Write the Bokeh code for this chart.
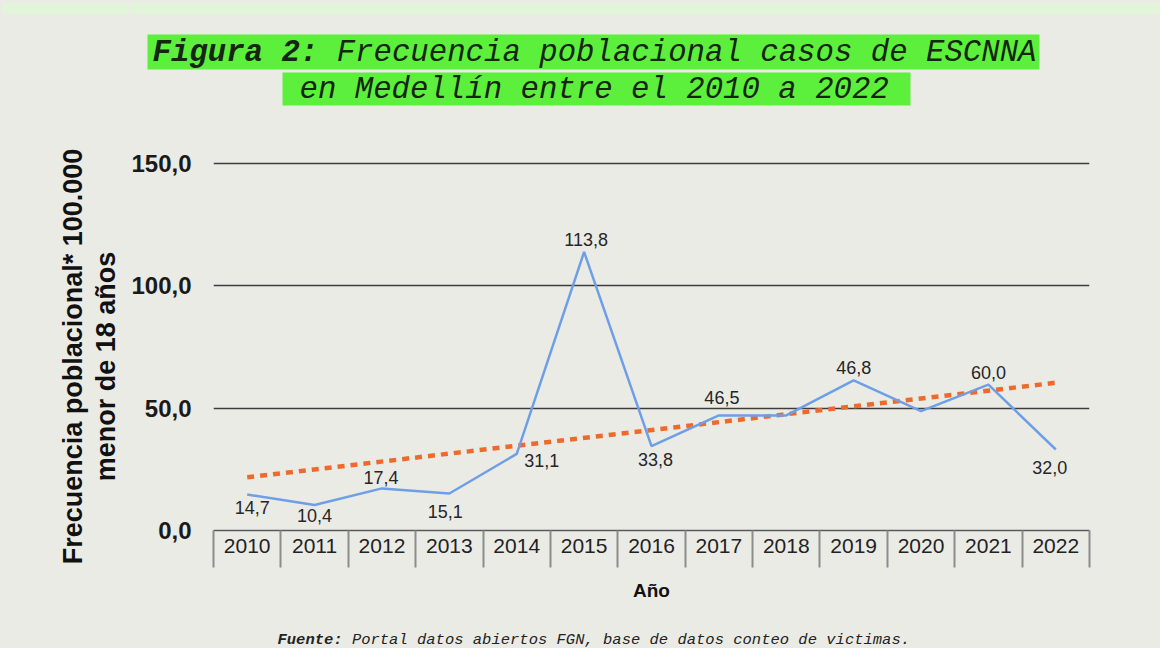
import math
import numpy as np
from bokeh.plotting import figure
from bokeh.layouts import column, row
from bokeh.models import Range1d, FixedTicker, ColumnDataSource
from bokeh.core.properties import value
from bokeh.embed import file_html
from bokeh.resources import INLINE

# ---------------- data ----------------
years = [2010, 2011, 2012, 2013, 2014, 2015, 2016, 2017, 2018, 2019, 2020, 2021, 2022]
rates = [14.7, 10.4, 17.2, 15.1, 31.3, 113.8, 34.5, 47.0, 47.0, 61.3, 48.8, 59.6, 33.1]
rate_labels = ["14,7", "10,4", "17,4", "15,1", "31,1", "113,8", "33,8",
               "46,5", "", "46,8", "", "60,0", "32,0"]
y_ticks = [0, 50, 100, 150]
y_tick_labels = ["0,0", "50,0", "100,0", "150,0"]

title_bold = "Figura 2:"
title_rest = "Frecuencia poblacional casos de ESCNNA"
title_line2 = "en Medellín entre el 2010 a 2022"
y_title_1 = "Frecuencia poblacional* 100.000"
y_title_2 = "menor de 18 años"
x_title = "Año"
source_bold = "Fuente:"
source_rest = "Portal datos abiertos FGN, base de datos conteo de victimas."

# label offsets in pixels (styling)
label_dx = [5, 0, -1, -4, 25, 2, 4, 3, 0, 0, 0, 0, -6]
label_dy = [13, 10, -11, 18, 7, -12, 13, -18, 0, -13, 0, -12, 18]

# ---------------- layout constants ----------------
BG = "#EBEBE6"
BAND = "#E2F4DA"
GREEN = "#5CF03C"
TC = "#15250f"
TOTAL_W, TOTAL_H = 1160, 648
LEFT_W = 128                 # page x 8..136
RW = TOTAL_W - LEFT_W        # right column width
OX = 8 + LEFT_W              # page x of right column
HEAD_H = 120
MAIN_H = 492
FOOT_H = TOTAL_H - HEAD_H - MAIN_H
STY = {"background-color": BG}


def pix_fig(w, h):
    f = figure(width=w, height=h, x_range=Range1d(0, w), y_range=Range1d(h, 0),
               output_backend="svg", toolbar_location=None,
               x_axis_type=None, y_axis_type=None, min_border=0,
               background_fill_color=BG, border_fill_color=BG,
               outline_line_color=None, styles=STY)
    return f


# ---------------- left strip: y title ----------------
left = pix_fig(LEFT_W, TOTAL_H)
left.quad(left=[2], right=[LEFT_W], top=[2], bottom=[14], fill_color=BAND, line_color=None)
left.text(x=[80 - 8, 113 - 8], y=[364 - 8, 374 - 8], text=[y_title_1, y_title_2],
          angle=math.pi / 2, text_font=value("Liberation Sans"), text_font_style="bold",
          text_font_size="27px", text_color="#111111",
          text_align="center", text_baseline="middle")

# ---------------- header ----------------
head = pix_fig(RW, HEAD_H)
head.quad(left=[0], right=[RW], top=[2], bottom=[14], fill_color=BAND, line_color=None)
head.quad(left=[155 - OX, 290 - OX], right=[1047 - OX, 918 - OX], top=[34, 72],
          bottom=[69, 105], fill_color=GREEN, line_color=None)
TFS = 30.7
CW = 0.6 * TFS
head.text(x=[160 - OX], y=[52], text=[title_bold], text_font=value("Liberation Mono"),
          text_font_style="bold italic", text_font_size=f"{TFS}px", text_color=TC,
          text_align="left", text_baseline="middle")
head.text(x=[160 - OX + (len(title_bold) + 1) * CW], y=[52], text=[title_rest],
          text_font=value("Liberation Mono"), text_font_style="italic",
          text_font_size=f"{TFS}px", text_color=TC,
          text_align="left", text_baseline="middle")
head.text(x=[307 - OX], y=[89], text=[title_line2], text_font=value("Liberation Mono"),
          text_font_style="italic", text_font_size=f"{TFS}px", text_color=TC,
          text_align="left", text_baseline="middle")

# ---------------- main plot ----------------
p = figure(width=RW, height=MAIN_H,
           x_range=Range1d(years[0] - 0.5, years[-1] + 0.5),
           y_range=Range1d(0, 152),
           output_backend="svg", toolbar_location=None,
           min_border_left=221 - OX, min_border_right=71,
           min_border_top=38, min_border_bottom=82,
           background_fill_color=BG, border_fill_color=BG,
           outline_line_color=None, styles=STY)

p.yaxis.ticker = FixedTicker(ticks=y_ticks)
p.yaxis.major_label_overrides = {t: l for t, l in zip(y_ticks, y_tick_labels)}
p.yaxis.axis_line_color = None
p.yaxis.major_tick_line_color = None
p.yaxis.minor_tick_line_color = None
p.yaxis.major_label_standoff = 16
p.yaxis.major_label_text_font = "Liberation Sans"
p.yaxis.major_label_text_font_style = "bold"
p.yaxis.major_label_text_font_size = "24px"
p.yaxis.major_label_text_color = "#1a1a1a"

p.ygrid.ticker = FixedTicker(ticks=y_ticks[1:])
p.ygrid.grid_line_color = "#3c3c3c"
p.ygrid.grid_line_width = 1.5
p.xgrid.visible = False

bounds = [y - 0.5 for y in years] + [years[-1] + 0.5]
p.xaxis.ticker = FixedTicker(ticks=years, minor_ticks=bounds)
p.xaxis.major_label_overrides = {y: str(y) for y in years}
p.xaxis.major_tick_out = 0
p.xaxis.major_tick_in = 0
p.xaxis.minor_tick_out = 37
p.xaxis.minor_tick_in = 0
p.xaxis.minor_tick_line_color = "#8c8c8c"
p.xaxis.minor_tick_line_width = 2
p.xaxis.axis_line_color = "#5a5a5a"
p.xaxis.axis_line_width = 1.5
p.xaxis.major_label_standoff = -29
p.xaxis.major_label_text_font = "Liberation Sans"
p.xaxis.major_label_text_font_size = "21px"
p.xaxis.major_label_text_color = "#222222"
p.xaxis.axis_label = x_title
p.xaxis.axis_label_text_font = "Liberation Sans"
p.xaxis.axis_label_text_font_style = "bold"
p.xaxis.axis_label_text_font_size = "19px"
p.xaxis.axis_label_text_color = "#111111"
p.xaxis.axis_label_standoff = 24

src = ColumnDataSource(dict(x=years, y=rates, t=rate_labels, dx=label_dx, dy=label_dy))

coef = np.polyfit(years, rates, 1)
trend_x = [years[0], years[-1]]
trend_y = [coef[0] * x + coef[1] for x in trend_x]
p.line(trend_x, trend_y, line_color="#EE6A2C", line_width=4.5, line_dash="7 6")

p.line("x", "y", source=src, line_color="#6E9FE6", line_width=2.5)

p.text("x", "y", text="t", source=src, x_offset="dx", y_offset="dy",
       text_font=value("Liberation Sans"), text_font_size="18px",
       text_color="#262626", text_align="center", text_baseline="middle")

# ---------------- footer ----------------
foot = pix_fig(RW, FOOT_H)
FFS = 15.5
FY = 27
foot.text(x=[285 - OX], y=[FY], text=[source_bold], text_font=value("Liberation Mono"),
          text_font_style="bold italic", text_font_size=f"{FFS}px", text_color="#222222",
          text_align="left", text_baseline="middle")
foot.text(x=[285 - OX + (len(source_bold) + 1) * 0.6 * FFS], y=[FY], text=[source_rest],
          text_font=value("Liberation Mono"), text_font_style="italic",
          text_font_size=f"{FFS}px", text_color="#222222",
          text_align="left", text_baseline="middle")

right = column(head, row(p, spacing=0, styles=STY), foot, spacing=0, styles=STY)
layout = row(left, right, spacing=0, styles=STY)

open("out.html", "w").write(file_html(layout, INLINE))
